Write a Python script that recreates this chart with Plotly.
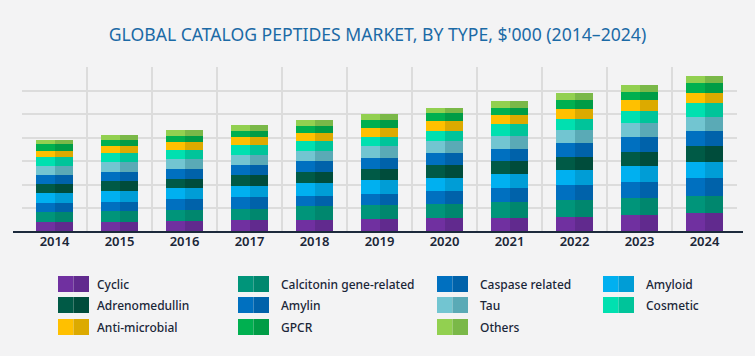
import plotly.graph_objects as go

years = [2014, 2015, 2016, 2017, 2018, 2019, 2020, 2021, 2022, 2023, 2024]

# Series values (arbitrary units, $'000 scaled; gridline = 100)
cyclic = [41, 42, 45, 51, 51, 55, 61, 61, 65, 73, 79]
calcitonin = [42, 48, 49, 47, 58, 58, 56, 66, 72, 72, 75]
amylin = [42, 39, 44, 52, 45, 49, 59, 59, 63, 68, 73]
amyloid = [42, 47, 49, 45, 52, 58, 52, 58, 61, 66, 71]
adrenomedullin = [37, 42, 39, 47, 49, 49, 55, 58, 59, 62, 65]
caspase = [38, 38, 42, 42, 48, 47, 51, 52, 56, 63, 66]
tau = [38, 41, 42, 44, 42, 47, 54, 52, 58, 58, 59]
cosmetic = [37, 38, 38, 39, 41, 42, 41, 51, 45, 51, 58]
antimicrobial = [28, 28, 32, 34, 34, 38, 42, 38, 42, 47, 45]
gpcr = [28, 27, 27, 28, 31, 32, 32, 32, 37, 35, 42]
others = [17, 20, 25, 23, 24, 24, 24, 27, 30, 30, 30]

# stacking order bottom -> top
stack = [
    ("Cyclic", cyclic, "#7030a0", "#612a8e"),
    ("Calcitonin gene-related", calcitonin, "#00957a", "#00876e"),
    ("Amylin", amylin, "#0070c0", "#0062aa"),
    ("Amyloid", amyloid, "#00b0f0", "#009dd6"),
    ("Adrenomedullin", adrenomedullin, "#005a46", "#004c3b"),
    ("Caspase related", caspase, "#0070c0", "#0062aa"),
    ("Tau", tau, "#72c5d1", "#5aaab6"),
    ("Cosmetic", cosmetic, "#00e0b0", "#00c49a"),
    ("Anti-microbial", antimicrobial, "#ffc000", "#dcaa00"),
    ("GPCR", gpcr, "#00b050", "#009c46"),
    ("Others", others, "#92d050", "#7ab848"),
]
colors = {n: (c1, c2) for n, _, c1, c2 in stack}

legend_rows = [
    ["Cyclic", "Calcitonin gene-related", "Caspase related", "Amyloid"],
    ["Adrenomedullin", "Amylin", "Tau", "Cosmetic"],
    ["Anti-microbial", "GPCR", "Others"],
]

W, H = 755, 356
ml, mr, mt, mb = 22, 18, 67, 124
pw, ph = W - ml - mr, H - mt - mb
BG = "#f3f3f4"

half = 0.277
fig = go.Figure()
for name, vals, c1, c2 in stack:
    fig.add_trace(go.Bar(x=years, y=vals, name=name, marker=dict(color=c1, line=dict(width=0)),
                         width=half, offset=-half, xaxis="x", yaxis="y", showlegend=False))
    fig.add_trace(go.Bar(x=years, y=vals, name=name, marker=dict(color=c2, line=dict(width=0)),
                         width=half, offset=0, xaxis="x2", yaxis="y", showlegend=False))

shapes = []
annotations = []
# baseline
shapes.append(dict(type="line", xref="paper", yref="paper",
                   x0=(13 - ml) / pw, x1=(743 - ml) / pw, y0=0, y1=0,
                   line=dict(color="#1c2a3c", width=2)))


def px(x):
    return (x - ml) / pw


def py(y):
    return (H - mb - y) / ph


col_sw_x = [58, 238, 437, 603]
col_tx_x = [95, 279, 478, 644]
row_y = [284, 305, 327]
sw_w, sw_h = 31, 16
for r, row in enumerate(legend_rows):
    for c, name in enumerate(row):
        c1, c2 = colors[name]
        x0 = col_sw_x[c]
        yc = row_y[r]
        shapes.append(dict(type="rect", xref="paper", yref="paper", x0=px(x0), x1=px(x0 + sw_w / 2),
                           y0=py(yc + sw_h / 2), y1=py(yc - sw_h / 2), fillcolor=c1, line=dict(width=0)))
        shapes.append(dict(type="rect", xref="paper", yref="paper", x0=px(x0 + sw_w / 2), x1=px(x0 + sw_w),
                           y0=py(yc + sw_h / 2), y1=py(yc - sw_h / 2), fillcolor=c2, line=dict(width=0)))
        annotations.append(dict(text=name, xref="paper", yref="paper", x=px(col_tx_x[c]), y=py(yc),
                                xanchor="left", yanchor="middle", showarrow=False,
                                font=dict(family="Noto Sans", size=12, color="#1a2638", weight=500)))

fig.update_layout(
    width=W, height=H,
    margin=dict(l=ml, r=mr, t=mt, b=mb),
    paper_bgcolor=BG, plot_bgcolor="rgba(0,0,0,0)",
    barmode="stack",
    title=dict(text="GLOBAL CATALOG PEPTIDES MARKET, BY TYPE, $'000 (2014–2024)",
               x=0.5, xanchor="center", y=1 - 35 / H, yanchor="middle",
               font=dict(family="Noto Sans", size=17.6, color="#1b6aa6")),
    xaxis=dict(range=[2013.5, 2024.5], tickvals=years, ticktext=[str(y) for y in years],
               showgrid=False, zeroline=False, showline=False, ticks="",
               tickfont=dict(family="Noto Sans", size=13, color="#1a2638", weight=600)),
    xaxis2=dict(range=[2013.5, 2024.5], overlaying="x", matches="x",
                tickvals=[y - 0.5 for y in years] + [2024.5],
                showgrid=True, gridcolor="#dcdcdc", gridwidth=1.5, showticklabels=False,
                zeroline=False, showline=False, ticks=""),
    yaxis=dict(range=[0, 700], dtick=100, showgrid=True, gridcolor="#dcdcdc", gridwidth=1.5,
               showticklabels=False, zeroline=False, ticks=""),
    shapes=shapes, annotations=annotations,
    bargap=0,
)

fig.write_html("out.html", config={"displayModeBar": False},
               post_script="document.body.style.margin='0';document.body.style.background='%s';" % BG)
